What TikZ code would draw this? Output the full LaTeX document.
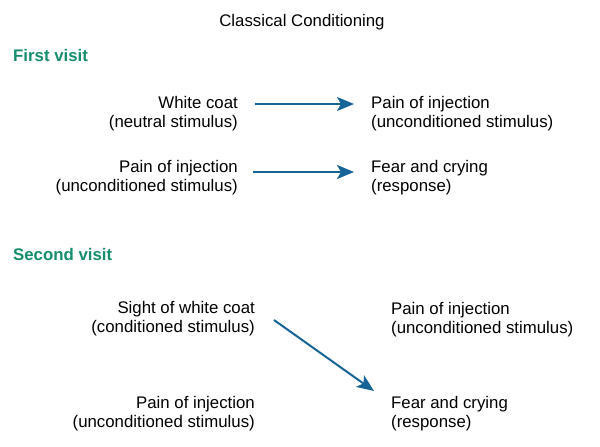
\documentclass[tikz,border=0pt]{standalone}
\usepackage{fontspec}
\setmainfont{Liberation Sans}
\usetikzlibrary{positioning, arrows.meta}
\definecolor{visitgreen}{RGB}{22,140,110}
\definecolor{arrowblue}{RGB}{22,100,150}
\tikzset{txt/.style={inner sep=0pt, align=left, font=\fontsize{16.8}{19}\selectfont},
         rtxt/.style={txt, anchor=east, align=right},
         ltxt/.style={txt, anchor=west, align=left},
         head/.style={inner sep=0pt, anchor=west, font=\fontsize{16.8}{19}\selectfont\bfseries, text=visitgreen},
         link/.style={-{Stealth[length=17pt,width=14pt,inset=4pt]}, line width=2pt, draw=arrowblue},
        }
\begin{document}
\begin{tikzpicture}[x=1pt,y=-1pt]
        \useasboundingbox (0,0) rectangle (600,447);
        \node[txt](title)at(302,22){Classical Conditioning};
        \node[head](v1)at(13,55){First visit};
        \node[head](v2)at(13,254){Second visit};

        \node[rtxt](a1)at(238,114){White coat\\(neutral stimulus)};
        \node[ltxt](b1)at(371,114){Pain of injection\\(unconditioned stimulus)};
        \node[rtxt](a2)at(238,178){Pain of injection\\(unconditioned stimulus)};
        \node[ltxt](b2)at(371,178){Fear and crying\\(response)};

        \node[rtxt](c1)at(255,319){Sight of white coat\\(conditioned stimulus)};
        \node[ltxt](d1)at(391,320){Pain of injection\\(unconditioned stimulus)};
        \node[rtxt](c2)at(255,414){Pain of injection\\(unconditioned stimulus)};
        \node[ltxt](d2)at(391,414){Fear and crying\\(response)};

        \coordinate(s1)at(255,104);
        \coordinate(e1)at(354,104);
        \coordinate(s2)at(253,172);
        \coordinate(e2)at(354,172);
        \coordinate(s3)at(274,320);
        \coordinate(e3)at(374,391);

        \draw[link](s1)--(e1);
        \draw[link](s2)--(e2);
        \draw[link](s3)--(e3);
    \end{tikzpicture}
\end{document}
